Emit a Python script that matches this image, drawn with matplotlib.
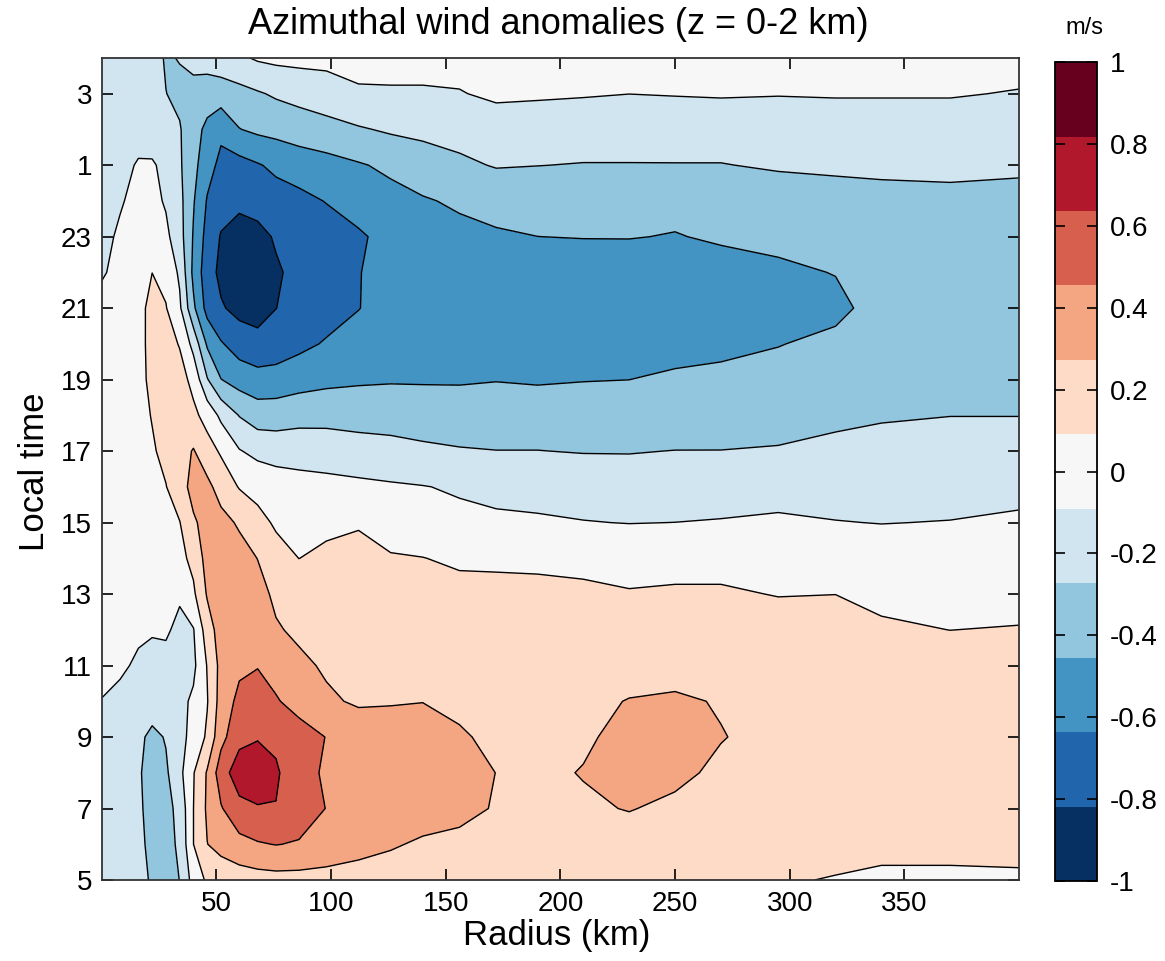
import numpy as np
import matplotlib
matplotlib.use('Agg')
import matplotlib.pyplot as plt

plt.rcParams['font.family'] = ['Liberation Sans', 'DejaVu Sans']

# radius nodes (km) and local time rows (h, 25 = 1 am, 27 = 3 am)
radius = [0, 8, 16, 22, 28, 34, 40, 46, 52, 60, 68, 76, 86, 98, 112, 126,
          140, 156, 172, 190, 210, 230, 250, 270, 295, 320, 340, 370, 400]
local_time = list(range(5, 29))

# azimuthal wind anomaly (m/s), one row per hour
u_anom = [
    [-0.15, -0.17, -0.20, -0.30, -0.35, -0.27, -0.02, 0.12, 0.16, 0.18, 0.20, 0.21, 0.21, 0.21, 0.20, 0.19, 0.19, 0.17, 0.15, 0.14, 0.14, 0.13, 0.13, 0.12, 0.11, 0.08, 0.05, 0.05, 0.06],
    [-0.16, -0.18, -0.22, -0.33, -0.34, -0.24, 0.09, 0.27, 0.33, 0.40, 0.44, 0.46, 0.44, 0.38, 0.33, 0.29, 0.25, 0.23, 0.21, 0.20, 0.20, 0.20, 0.19, 0.18, 0.17, 0.16, 0.15, 0.15, 0.15],
    [-0.16, -0.19, -0.24, -0.34, -0.33, -0.22, 0.09, 0.30, 0.44, 0.58, 0.62, 0.63, 0.55, 0.45, 0.39, 0.37, 0.35, 0.32, 0.26, 0.23, 0.25, 0.28, 0.24, 0.22, 0.20, 0.19, 0.19, 0.19, 0.19],
    [-0.17, -0.20, -0.25, -0.35, -0.30, -0.14, 0.08, 0.29, 0.55, 0.74, 0.77, 0.66, 0.52, 0.43, 0.40, 0.39, 0.39, 0.38, 0.27, 0.24, 0.28, 0.31, 0.31, 0.24, 0.21, 0.20, 0.20, 0.20, 0.20],
    [-0.16, -0.20, -0.23, -0.32, -0.26, -0.14, -0.04, 0.12, 0.40, 0.58, 0.62, 0.60, 0.53, 0.45, 0.38, 0.36, 0.34, 0.29, 0.24, 0.23, 0.25, 0.32, 0.33, 0.28, 0.22, 0.20, 0.19, 0.19, 0.19],
    [-0.10, -0.14, -0.16, -0.17, -0.17, -0.14, -0.06, 0.08, 0.35, 0.50, 0.50, 0.47, 0.39, 0.30, 0.25, 0.26, 0.27, 0.24, 0.22, 0.22, 0.23, 0.28, 0.30, 0.26, 0.21, 0.20, 0.19, 0.18, 0.18],
    [0.00, -0.06, -0.12, -0.13, -0.14, -0.16, -0.13, 0.10, 0.33, 0.42, 0.45, 0.39, 0.31, 0.25, 0.22, 0.21, 0.21, 0.20, 0.20, 0.19, 0.19, 0.20, 0.20, 0.19, 0.18, 0.18, 0.17, 0.16, 0.16],
    [0.00, 0.00, -0.06, -0.08, -0.07, -0.13, -0.10, 0.18, 0.36, 0.42, 0.40, 0.29, 0.24, 0.21, 0.20, 0.19, 0.18, 0.18, 0.17, 0.17, 0.16, 0.16, 0.16, 0.16, 0.16, 0.15, 0.11, 0.09, 0.10],
    [0.00, 0.00, 0.00, -0.02, -0.04, -0.07, 0.06, 0.29, 0.40, 0.40, 0.33, 0.24, 0.18, 0.16, 0.16, 0.16, 0.16, 0.15, 0.14, 0.13, 0.12, 0.10, 0.11, 0.11, 0.085, 0.09, 0.06, 0.03, 0.03],
    [0.00, 0.00, 0.00, 0.00, 0.01, 0.04, 0.14, 0.34, 0.38, 0.34, 0.27, 0.15, 0.09, 0.12, 0.13, 0.11, 0.095, 0.06, 0.06, 0.06, 0.05, 0.04, 0.04, 0.04, 0.03, 0.03, 0.01, 0.00, 0.00],
    [0.00, 0.00, 0.00, 0.01, 0.04, 0.085, 0.25, 0.33, 0.33, 0.25, 0.14, 0.07, 0.04, 0.06, 0.08, -0.01, -0.03, -0.05, -0.06, -0.07, -0.085, -0.095, -0.09, -0.08, -0.06, -0.085, -0.095, -0.085, -0.075],
    [-0.01, 0.00, 0.01, 0.03, 0.085, 0.20, 0.33, 0.32, 0.20, 0.08, 0.04, 0.00, -0.02, -0.03, -0.05, -0.07, -0.085, -0.11, -0.14, -0.15, -0.17, -0.19, -0.19, -0.18, -0.17, -0.17, -0.18, -0.17, -0.12],
    [-0.02, 0.00, 0.03, 0.07, 0.14, 0.20, 0.285, 0.16, 0.07, -0.08, -0.14, -0.16, -0.17, -0.19, -0.21, -0.22, -0.24, -0.26, -0.27, -0.27, -0.28, -0.28, -0.27, -0.27, -0.26, -0.23, -0.21, -0.20, -0.20],
    [-0.02, 0.00, 0.03, 0.10, 0.16, 0.18, 0.13, 0.03, -0.13, -0.28, -0.36, -0.36, -0.33, -0.32, -0.33, -0.34, -0.36, -0.37, -0.37, -0.37, -0.37, -0.38, -0.37, -0.36, -0.34, -0.31, -0.29, -0.275, -0.275],
    [-0.02, 0.00, 0.04, 0.13, 0.17, 0.16, 0.04, -0.26, -0.45, -0.53, -0.57, -0.56, -0.53, -0.50, -0.48, -0.47, -0.47, -0.47, -0.46, -0.47, -0.46, -0.455, -0.43, -0.41, -0.40, -0.38, -0.36, -0.34, -0.34],
    [-0.02, 0.00, 0.03, 0.15, 0.16, 0.08, -0.15, -0.48, -0.62, -0.72, -0.76, -0.74, -0.68, -0.62, -0.58, -0.56, -0.55, -0.54, -0.54, -0.54, -0.53, -0.52, -0.51, -0.50, -0.46, -0.42, -0.38, -0.36, -0.36],
    [-0.03, 0.00, 0.04, 0.14, 0.10, -0.06, -0.42, -0.70, -0.80, -0.87, -0.89, -0.82, -0.76, -0.71, -0.64, -0.58, -0.56, -0.55, -0.54, -0.54, -0.54, -0.54, -0.53, -0.53, -0.52, -0.49, -0.40, -0.37, -0.37],
    [-0.11, -0.04, 0.00, 0.09, 0.04, -0.12, -0.50, -0.74, -0.86, -0.93, -0.92, -0.84, -0.77, -0.73, -0.64, -0.60, -0.57, -0.55, -0.54, -0.53, -0.53, -0.52, -0.52, -0.50, -0.48, -0.45, -0.41, -0.38, -0.38],
    [-0.15, -0.06, -0.02, -0.02, -0.05, -0.20, -0.47, -0.70, -0.83, -0.89, -0.87, -0.80, -0.75, -0.71, -0.66, -0.58, -0.54, -0.50, -0.47, -0.455, -0.45, -0.45, -0.46, -0.44, -0.42, -0.40, -0.38, -0.37, -0.37],
    [-0.17, -0.11, -0.03, -0.04, -0.11, -0.22, -0.44, -0.65, -0.75, -0.78, -0.75, -0.71, -0.68, -0.63, -0.56, -0.51, -0.47, -0.43, -0.41, -0.40, -0.41, -0.41, -0.42, -0.41, -0.38, -0.37, -0.35, -0.34, -0.35],
    [-0.20, -0.16, -0.07, -0.07, -0.14, -0.25, -0.40, -0.57, -0.68, -0.70, -0.65, -0.60, -0.56, -0.52, -0.47, -0.42, -0.36, -0.31, -0.26, -0.27, -0.28, -0.28, -0.28, -0.28, -0.25, -0.23, -0.22, -0.21, -0.23],
    [-0.18, -0.18, -0.18, -0.19, -0.22, -0.26, -0.38, -0.50, -0.60, -0.46, -0.42, -0.40, -0.36, -0.33, -0.29, -0.25, -0.23, -0.20, -0.18, -0.18, -0.18, -0.18, -0.17, -0.17, -0.17, -0.17, -0.17, -0.17, -0.17],
    [-0.18, -0.18, -0.18, -0.20, -0.27, -0.31, -0.33, -0.36, -0.36, -0.33, -0.29, -0.25, -0.22, -0.18, -0.11, -0.11, -0.11, -0.10, -0.06, -0.07, -0.08, -0.09, -0.085, -0.08, -0.085, -0.08, -0.08, -0.08, -0.10],
    [-0.18, -0.18, -0.18, -0.20, -0.29, -0.265, -0.22, -0.20, -0.17, -0.12, -0.07, -0.05, -0.04, -0.04, -0.04, -0.03, -0.03, -0.03, -0.03, -0.03, -0.03, -0.03, -0.03, -0.03, -0.03, -0.03, -0.03, -0.03, -0.03],
]

# 11 shading bands between -1 and 1 m/s
levels = np.linspace(-1, 1, 12)
band_colors = ['#053061', '#2166ac', '#4393c3', '#92c5de', '#d1e5f0', '#f7f7f7',
               '#fddbc7', '#f4a582', '#d6604d', '#b2182b', '#67001f']

xtick_pos = [50, 100, 150, 200, 250, 300, 350]
ytick_pos = [5, 7, 9, 11, 13, 15, 17, 19, 21, 23, 25, 27]
ytick_labels = ['5', '7', '9', '11', '13', '15', '17', '19', '21', '23', '1', '3']
cbar_ticks = [-1, -0.8, -0.6, -0.4, -0.2, 0, 0.2, 0.4, 0.6, 0.8, 1]
cbar_labels = ['-1', '-0.8', '-0.6', '-0.4', '-0.2', '0', '0.2', '0.4', '0.6', '0.8', '1']

fig = plt.figure(figsize=(11.65, 9.61), dpi=100)
ax = fig.add_axes([0.0873, 0.0843, 0.7874, 0.8554])

cf = ax.contourf(radius, local_time, u_anom, levels=levels, colors=band_colors)
ax.contour(radius, local_time, u_anom, levels=levels[1:-1], colors='k',
           linewidths=1.0, linestyles='solid')

ax.set_xlim(0, 400)
ax.set_ylim(5, 28)
ax.set_xticks(xtick_pos)
ax.set_yticks(ytick_pos)
ax.set_yticklabels(ytick_labels)
ax.tick_params(direction='in', top=True, right=True, length=8, width=1.2,
               labelsize=20)
ax.tick_params(axis='x', pad=8)
ax.tick_params(axis='y', pad=7)
for sp in ax.spines.values():
    sp.set_linewidth(1.3)
    sp.set_color('#333333')

fig.text(0.479, 0.975, 'Azimuthal wind anomalies (z = 0-2 km)', ha='center',
         va='center', fontsize=26)
fig.text(0.478, 0.027, 'Radius (km)', ha='center', va='center', fontsize=25)
fig.text(0.030, 0.509, 'Local time', ha='center', va='center', fontsize=25,
         rotation=90)

''' colour bar '''
cax = fig.add_axes([0.9056, 0.0832, 0.036, 0.8522])
cb = fig.colorbar(cf, cax=cax, ticks=cbar_ticks)
cb.ax.set_yticklabels(cbar_labels)
cb.ax.tick_params(direction='in', left=True, right=True, length=7, width=1.2,
                  labelsize=20, pad=9)
cb.outline.set_linewidth(1.3)
fig.text(0.931, 0.971, 'm/s', ha='center', va='center', fontsize=17)

fig.savefig('out.png', dpi=100)
